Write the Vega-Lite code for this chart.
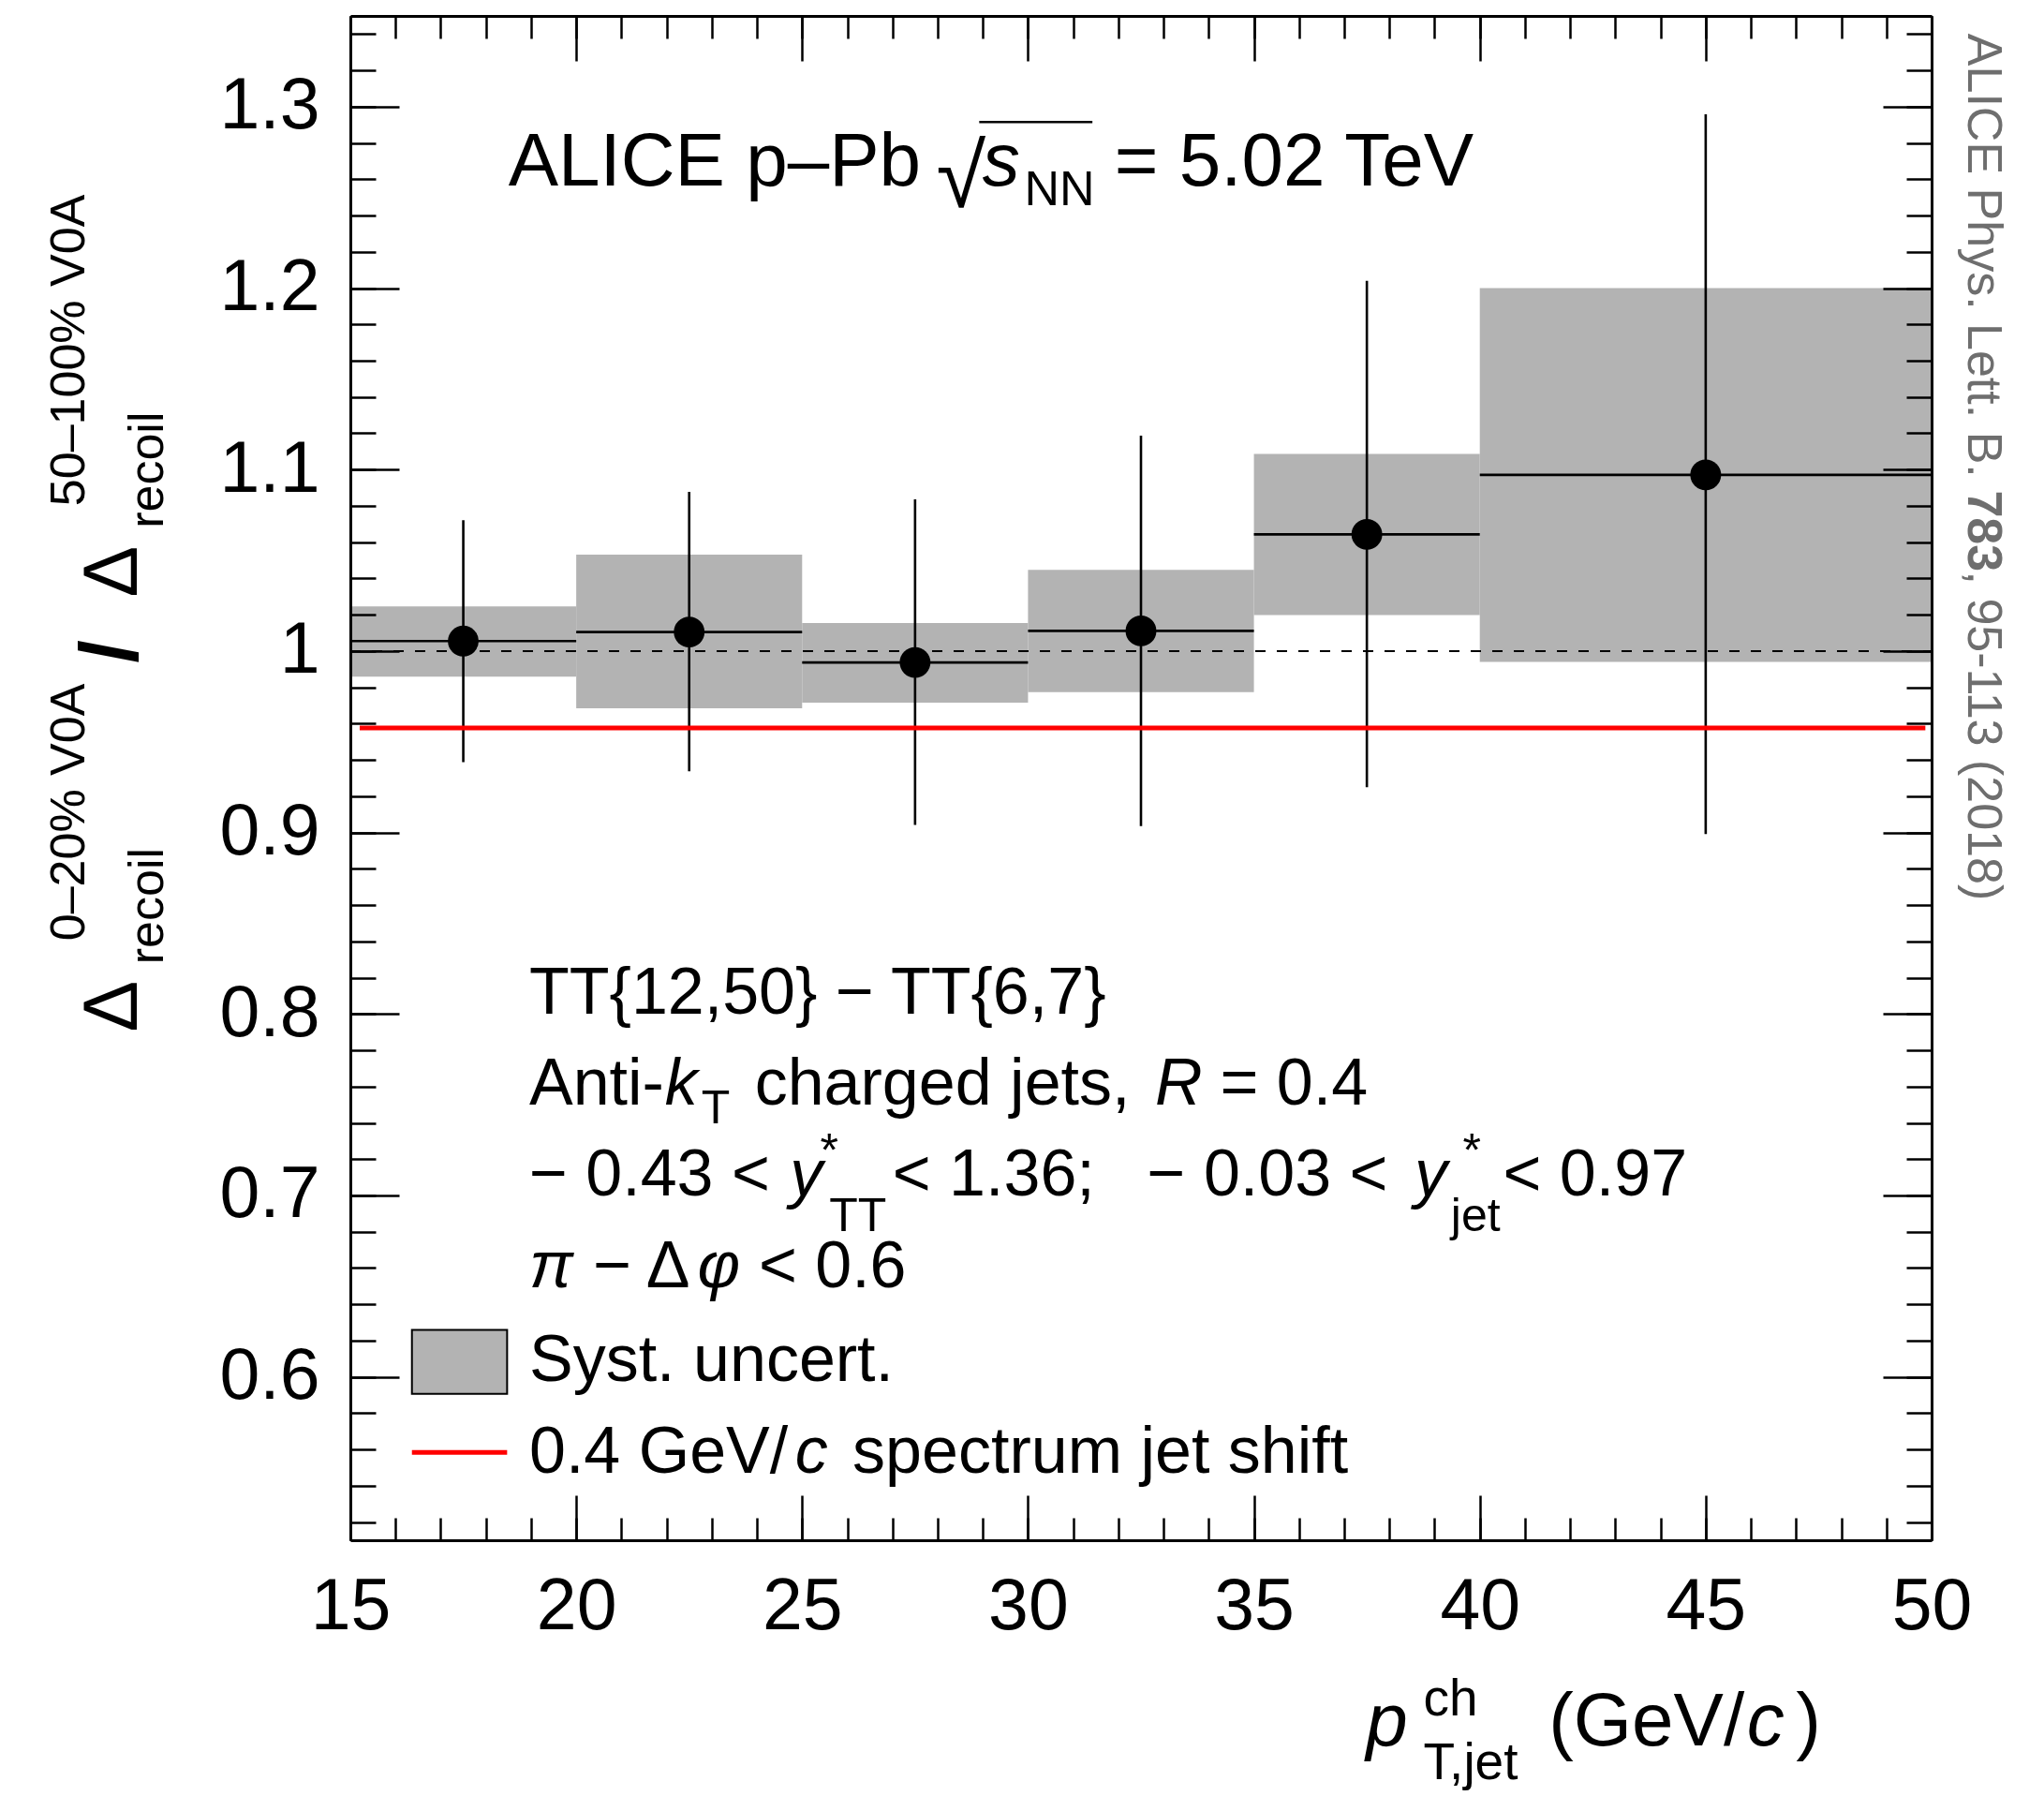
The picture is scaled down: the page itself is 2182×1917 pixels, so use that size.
{
  "$schema": "https://vega.github.io/schema/vega-lite/v6.json",
  "width": 1688,
  "height": 1627,
  "autosize": {"type": "none"},
  "padding": {"left": 374, "top": 17, "right": 120, "bottom": 273},
  "background": "white",
  "config": {"view": {"stroke": null}, "font": "Liberation Sans"},
  "datasets": {
    "bins": [
      {"lo": 15, "hi": 20, "x": 17.5, "v": 1.0055, "elo": 0.9388, "ehi": 1.0721, "slo": 0.9859, "shi": 1.0246},
      {"lo": 20, "hi": 25, "x": 22.5, "v": 1.0105, "elo": 0.9337, "ehi": 1.0877, "slo": 0.9684, "shi": 1.0531},
      {"lo": 25, "hi": 30, "x": 27.5, "v": 0.9937, "elo": 0.9042, "ehi": 1.0836, "slo": 0.9716, "shi": 1.0155},
      {"lo": 30, "hi": 35, "x": 32.5, "v": 1.0111, "elo": 0.9035, "ehi": 1.1187, "slo": 0.9774, "shi": 1.0448},
      {"lo": 35, "hi": 40, "x": 37.5, "v": 1.0643, "elo": 0.925, "ehi": 1.204, "slo": 1.0198, "shi": 1.1087},
      {"lo": 40, "hi": 50, "x": 45, "v": 1.0971, "elo": 0.8992, "ehi": 1.2958, "slo": 0.994, "shi": 1.2}
    ],
    "labels": [
      {"role": "title", "x": 18.498, "y": 1.2564, "t": "ALICE p–Pb"},
      {"role": "radical", "x": 27.97, "y": 1.2449, "t": "√"},
      {"role": "titleit", "x": 28.99, "y": 1.2564, "t": "s"},
      {"role": "titlesub", "x": 29.92, "y": 1.2456, "t": "NN"},
      {"role": "title", "x": 31.916, "y": 1.2564, "t": "= 5.02 TeV"},
      {"role": "body", "x": 18.96, "y": 0.8002, "t": "TT{12,50} − TT{6,7}"},
      {"role": "body", "x": 18.96, "y": 0.75, "t": "Anti-"},
      {"role": "bodyit", "x": 21.961, "y": 0.75, "t": "k"},
      {"role": "small", "x": 22.769, "y": 0.7399, "t": "T"},
      {"role": "body", "x": 23.951, "y": 0.75, "t": "charged jets,"},
      {"role": "bodyit", "x": 32.81, "y": 0.75, "t": "R"},
      {"role": "body", "x": 34.252, "y": 0.75, "t": "= 0.4"},
      {"role": "body", "x": 18.96, "y": 0.6998, "t": "− 0.43 <"},
      {"role": "bodyit", "x": 24.731, "y": 0.6998, "t": "y"},
      {"role": "small", "x": 25.4, "y": 0.716, "t": "*"},
      {"role": "small", "x": 25.6, "y": 0.6804, "t": "TT"},
      {"role": "body", "x": 27.0, "y": 0.6998, "t": "< 1.36;"},
      {"role": "body", "x": 32.637, "y": 0.6998, "t": "− 0.03 <"},
      {"role": "bodyit", "x": 38.552, "y": 0.6998, "t": "y"},
      {"role": "small", "x": 39.62, "y": 0.716, "t": "*"},
      {"role": "small", "x": 39.36, "y": 0.6804, "t": "jet"},
      {"role": "body", "x": 40.514, "y": 0.6998, "t": "< 0.97"},
      {"role": "bodyit", "x": 18.96, "y": 0.6495, "t": "π"},
      {"role": "body", "x": 20.374, "y": 0.6495, "t": "− Δ"},
      {"role": "bodyit", "x": 22.682, "y": 0.6495, "t": "φ"},
      {"role": "body", "x": 24.038, "y": 0.6495, "t": "< 0.6"},
      {"role": "body", "x": 18.96, "y": 0.5979, "t": "Syst. uncert."},
      {"role": "body", "x": 18.96, "y": 0.547, "t": "0.4 GeV/"},
      {"role": "bodyit", "x": 24.846, "y": 0.547, "t": "c"},
      {"role": "body", "x": 26.116, "y": 0.547, "t": "spectrum jet shift"},
      {"role": "xtit", "x": 37.484, "y": 0.397, "t": "p"},
      {"role": "xtsub", "x": 38.754, "y": 0.4135, "t": "ch"},
      {"role": "xtsub", "x": 38.754, "y": 0.3784, "t": "T,jet"},
      {"role": "xt", "x": 41.524, "y": 0.397, "t": "(GeV/"},
      {"role": "xtit", "x": 45.91, "y": 0.397, "t": "c"},
      {"role": "xt", "x": 47.0, "y": 0.397, "t": ")"},
      {"role": "yt", "x": 10.275, "y": 0.7901, "t": "Δ"},
      {"role": "ysmall", "x": 10.852, "y": 0.8274, "t": "recoil"},
      {"role": "ysmall", "x": 9.121, "y": 0.8403, "t": "0–20% V0A"},
      {"role": "yslash", "x": 10.275, "y": 0.9935, "t": "/"},
      {"role": "yt", "x": 10.275, "y": 1.0297, "t": "Δ"},
      {"role": "ysmall", "x": 10.852, "y": 1.0677, "t": "recoil"},
      {"role": "ysmall", "x": 9.121, "y": 1.0799, "t": "50–100% V0A"},
      {"role": "ref", "x": 50.815, "y": 1.3403, "t": "ALICE Phys. Lett. B."},
      {"role": "refbold", "x": 50.815, "y": 1.08854, "t": "783"},
      {"role": "ref", "x": 50.815, "y": 1.04407, "t": ", 95-113 (2018)"}
    ]
  },
  "resolve": {"axis": {"x": "independent", "y": "independent"}},
  "layer": [
    {
      "data": {"name": "bins"},
      "mark": {"type": "rect", "color": "#b3b3b3"},
      "encoding": {
        "x": {"field": "lo", "type": "quantitative", "scale": {"domain": [15, 50], "nice": false, "zero": false},
          "axis": {"orient": "bottom", "values": [15, 20, 25, 30, 35, 40, 45, 50], "tickSize": -48, "tickWidth": 2.5, "tickColor": "black", "domain": true, "domainWidth": 3, "domainColor": "black", "labels": true, "labelFont": "Liberation Sans", "labelFontSize": 77, "labelColor": "black", "labelPadding": 81, "labelFlush": false, "labelOverlap": false, "grid": false, "title": null, "zindex": 1}},
        "x2": {"field": "hi"},
        "y": {"field": "slo", "type": "quantitative", "scale": {"domain": [0.51, 1.35], "nice": false, "zero": false},
          "axis": {"orient": "left", "values": [0.6, 0.7, 0.8, 0.9, 1, 1.1, 1.2, 1.3], "format": ".1~f", "tickSize": -52, "tickWidth": 2.5, "tickColor": "black", "domain": true, "domainWidth": 3, "domainColor": "black", "labels": true, "labelFont": "Liberation Sans", "labelFontSize": 77, "labelColor": "black", "labelPadding": 85, "labelFlush": false, "labelOverlap": false, "grid": false, "title": null, "zindex": 1}},
        "y2": {"field": "shi"}
      }
    },
    {
      "data": {"values": [{"x1": 15, "x2": 50, "y": 1}]},
      "mark": {"type": "rule", "color": "black", "strokeWidth": 2, "strokeDash": [11, 12]},
      "encoding": {
        "x": {"field": "x1", "type": "quantitative", "scale": {"domain": [15, 50], "nice": false, "zero": false}, "axis": null},
        "x2": {"field": "x2"},
        "y": {"field": "y", "type": "quantitative", "scale": {"domain": [0.51, 1.35], "nice": false, "zero": false}, "axis": null}
      }
    },
    {
      "data": {"name": "bins"},
      "mark": {"type": "rule", "color": "black", "strokeWidth": 2.6},
      "encoding": {
        "x": {"field": "x", "type": "quantitative", "scale": {"domain": [15, 50], "nice": false, "zero": false},
          "axis": {"orient": "bottom", "values": [15, 16, 17, 18, 19, 20, 21, 22, 23, 24, 25, 26, 27, 28, 29, 30, 31, 32, 33, 34, 35, 36, 37, 38, 39, 40, 41, 42, 43, 44, 45, 46, 47, 48, 49, 50], "tickSize": -24, "tickWidth": 2.5, "tickColor": "black", "domain": false, "labels": false, "grid": false, "title": null, "zindex": 1}},
        "y": {"field": "elo", "type": "quantitative", "scale": {"domain": [0.51, 1.35], "nice": false, "zero": false},
          "axis": {"orient": "left", "values": [0.52, 0.54, 0.56, 0.58, 0.6, 0.62, 0.64, 0.66, 0.68, 0.7, 0.72, 0.74, 0.76, 0.78, 0.8, 0.82, 0.84, 0.86, 0.88, 0.9, 0.92, 0.94, 0.96, 0.98, 1, 1.02, 1.04, 1.06, 1.08, 1.1, 1.12, 1.14, 1.16, 1.18, 1.2, 1.22, 1.24, 1.26, 1.28, 1.3, 1.32, 1.34], "tickSize": -27, "tickWidth": 2.5, "tickColor": "black", "domain": false, "labels": false, "grid": false, "title": null, "zindex": 1}},
        "y2": {"field": "ehi"}
      }
    },
    {
      "data": {"name": "bins"},
      "mark": {"type": "rule", "color": "black", "strokeWidth": 2.6},
      "encoding": {
        "x": {"field": "lo", "type": "quantitative", "scale": {"domain": [15, 50], "nice": false, "zero": false},
          "axis": {"orient": "top", "values": [15, 20, 25, 30, 35, 40, 45, 50], "tickSize": -48, "tickWidth": 2.5, "tickColor": "black", "domain": true, "domainWidth": 3, "domainColor": "black", "labels": false, "grid": false, "title": null, "zindex": 1}},
        "x2": {"field": "hi"},
        "y": {"field": "v", "type": "quantitative", "scale": {"domain": [0.51, 1.35], "nice": false, "zero": false},
          "axis": {"orient": "right", "values": [0.6, 0.7, 0.8, 0.9, 1, 1.1, 1.2, 1.3], "tickSize": -52, "tickWidth": 2.5, "tickColor": "black", "domain": true, "domainWidth": 3, "domainColor": "black", "labels": false, "grid": false, "title": null, "zindex": 1}}
      }
    },
    {
      "data": {"values": [{"x1": 15.207, "x2": 49.862, "y": 0.9576}]},
      "mark": {"type": "rule", "color": "#ff0000", "strokeWidth": 5},
      "encoding": {
        "x": {"field": "x1", "type": "quantitative", "scale": {"domain": [15, 50], "nice": false, "zero": false}, "axis": null},
        "x2": {"field": "x2"},
        "y": {"field": "y", "type": "quantitative", "scale": {"domain": [0.51, 1.35], "nice": false, "zero": false}, "axis": null}
      }
    },
    {
      "data": {"name": "bins"},
      "mark": {"type": "point", "filled": true, "color": "black", "opacity": 1, "size": 1080, "shape": "circle"},
      "encoding": {
        "x": {"field": "x", "type": "quantitative", "scale": {"domain": [15, 50], "nice": false, "zero": false},
          "axis": {"orient": "top", "values": [15, 16, 17, 18, 19, 20, 21, 22, 23, 24, 25, 26, 27, 28, 29, 30, 31, 32, 33, 34, 35, 36, 37, 38, 39, 40, 41, 42, 43, 44, 45, 46, 47, 48, 49, 50], "tickSize": -24, "tickWidth": 2.5, "tickColor": "black", "domain": false, "labels": false, "grid": false, "title": null, "zindex": 1}},
        "y": {"field": "v", "type": "quantitative", "scale": {"domain": [0.51, 1.35], "nice": false, "zero": false},
          "axis": {"orient": "right", "values": [0.52, 0.54, 0.56, 0.58, 0.6, 0.62, 0.64, 0.66, 0.68, 0.7, 0.72, 0.74, 0.76, 0.78, 0.8, 0.82, 0.84, 0.86, 0.88, 0.9, 0.92, 0.94, 0.96, 0.98, 1, 1.02, 1.04, 1.06, 1.08, 1.1, 1.12, 1.14, 1.16, 1.18, 1.2, 1.22, 1.24, 1.26, 1.28, 1.3, 1.32, 1.34], "tickSize": -27, "tickWidth": 2.5, "tickColor": "black", "domain": false, "labels": false, "grid": false, "title": null, "zindex": 1}}
      }
    },
    {
      "data": {"values": [{"x1": 16.363, "x2": 18.47, "y1": 0.5907, "y2": 0.6259}]},
      "mark": {"type": "rect", "fill": "#b3b3b3", "stroke": "black", "strokeWidth": 2},
      "encoding": {
        "x": {"field": "x1", "type": "quantitative", "scale": {"domain": [15, 50], "nice": false, "zero": false}, "axis": null},
        "x2": {"field": "x2"},
        "y": {"field": "y1", "type": "quantitative", "scale": {"domain": [0.51, 1.35], "nice": false, "zero": false}, "axis": null},
        "y2": {"field": "y2"}
      }
    },
    {
      "data": {"values": [{"x1": 16.363, "x2": 18.47, "y": 0.5584}]},
      "mark": {"type": "rule", "color": "#ff0000", "strokeWidth": 5},
      "encoding": {
        "x": {"field": "x1", "type": "quantitative", "scale": {"domain": [15, 50], "nice": false, "zero": false}, "axis": null},
        "x2": {"field": "x2"},
        "y": {"field": "y", "type": "quantitative", "scale": {"domain": [0.51, 1.35], "nice": false, "zero": false}, "axis": null}
      }
    },
    {
      "data": {"values": [{"x1": 28.92, "x2": 31.425, "y": 1.2915}]},
      "mark": {"type": "rule", "color": "black", "strokeWidth": 2.5},
      "encoding": {
        "x": {"field": "x1", "type": "quantitative", "scale": {"domain": [15, 50], "nice": false, "zero": false}, "axis": null},
        "x2": {"field": "x2"},
        "y": {"field": "y", "type": "quantitative", "scale": {"domain": [0.51, 1.35], "nice": false, "zero": false}, "axis": null}
      }
    },
    {
      "data": {"name": "labels"},
      "transform": [{"filter": "datum.role == 'title'"}],
      "mark": {"type": "text", "font": "Liberation Sans", "fontSize": 80, "align": "left", "baseline": "alphabetic", "color": "black"},
      "encoding": {
        "x": {"field": "x", "type": "quantitative", "scale": {"domain": [15, 50], "nice": false, "zero": false}, "axis": null},
        "y": {"field": "y", "type": "quantitative", "scale": {"domain": [0.51, 1.35], "nice": false, "zero": false}, "axis": null},
        "text": {"field": "t"}
      }
    },
    {
      "data": {"name": "labels"},
      "transform": [{"filter": "datum.role == 'titleit'"}],
      "mark": {"type": "text", "font": "Liberation Sans", "fontStyle": "italic", "fontSize": 80, "align": "left", "baseline": "alphabetic", "color": "black"},
      "encoding": {
        "x": {"field": "x", "type": "quantitative", "scale": {"domain": [15, 50], "nice": false, "zero": false}, "axis": null},
        "y": {"field": "y", "type": "quantitative", "scale": {"domain": [0.51, 1.35], "nice": false, "zero": false}, "axis": null},
        "text": {"field": "t"}
      }
    },
    {
      "data": {"name": "labels"},
      "transform": [{"filter": "datum.role == 'titlesub'"}],
      "mark": {"type": "text", "font": "Liberation Sans", "fontSize": 52, "align": "left", "baseline": "alphabetic", "color": "black"},
      "encoding": {
        "x": {"field": "x", "type": "quantitative", "scale": {"domain": [15, 50], "nice": false, "zero": false}, "axis": null},
        "y": {"field": "y", "type": "quantitative", "scale": {"domain": [0.51, 1.35], "nice": false, "zero": false}, "axis": null},
        "text": {"field": "t"}
      }
    },
    {
      "data": {"name": "labels"},
      "transform": [{"filter": "datum.role == 'radical'"}],
      "mark": {"type": "text", "font": "Liberation Sans", "fontSize": 96, "align": "left", "baseline": "alphabetic", "color": "black"},
      "encoding": {
        "x": {"field": "x", "type": "quantitative", "scale": {"domain": [15, 50], "nice": false, "zero": false}, "axis": null},
        "y": {"field": "y", "type": "quantitative", "scale": {"domain": [0.51, 1.35], "nice": false, "zero": false}, "axis": null},
        "text": {"field": "t"}
      }
    },
    {
      "data": {"name": "labels"},
      "transform": [{"filter": "datum.role == 'body'"}],
      "mark": {"type": "text", "font": "Liberation Sans", "fontSize": 70, "align": "left", "baseline": "alphabetic", "color": "black"},
      "encoding": {
        "x": {"field": "x", "type": "quantitative", "scale": {"domain": [15, 50], "nice": false, "zero": false}, "axis": null},
        "y": {"field": "y", "type": "quantitative", "scale": {"domain": [0.51, 1.35], "nice": false, "zero": false}, "axis": null},
        "text": {"field": "t"}
      }
    },
    {
      "data": {"name": "labels"},
      "transform": [{"filter": "datum.role == 'bodyit'"}],
      "mark": {"type": "text", "font": "Liberation Sans", "fontStyle": "italic", "fontSize": 70, "align": "left", "baseline": "alphabetic", "color": "black"},
      "encoding": {
        "x": {"field": "x", "type": "quantitative", "scale": {"domain": [15, 50], "nice": false, "zero": false}, "axis": null},
        "y": {"field": "y", "type": "quantitative", "scale": {"domain": [0.51, 1.35], "nice": false, "zero": false}, "axis": null},
        "text": {"field": "t"}
      }
    },
    {
      "data": {"name": "labels"},
      "transform": [{"filter": "datum.role == 'small'"}],
      "mark": {"type": "text", "font": "Liberation Sans", "fontSize": 50, "align": "left", "baseline": "alphabetic", "color": "black"},
      "encoding": {
        "x": {"field": "x", "type": "quantitative", "scale": {"domain": [15, 50], "nice": false, "zero": false}, "axis": null},
        "y": {"field": "y", "type": "quantitative", "scale": {"domain": [0.51, 1.35], "nice": false, "zero": false}, "axis": null},
        "text": {"field": "t"}
      }
    },
    {
      "data": {"name": "labels"},
      "transform": [{"filter": "datum.role == 'xt'"}],
      "mark": {"type": "text", "font": "Liberation Sans", "fontSize": 80, "align": "left", "baseline": "alphabetic", "color": "black"},
      "encoding": {
        "x": {"field": "x", "type": "quantitative", "scale": {"domain": [15, 50], "nice": false, "zero": false}, "axis": null},
        "y": {"field": "y", "type": "quantitative", "scale": {"domain": [0.51, 1.35], "nice": false, "zero": false}, "axis": null},
        "text": {"field": "t"}
      }
    },
    {
      "data": {"name": "labels"},
      "transform": [{"filter": "datum.role == 'xtit'"}],
      "mark": {"type": "text", "font": "Liberation Sans", "fontStyle": "italic", "fontSize": 80, "align": "left", "baseline": "alphabetic", "color": "black"},
      "encoding": {
        "x": {"field": "x", "type": "quantitative", "scale": {"domain": [15, 50], "nice": false, "zero": false}, "axis": null},
        "y": {"field": "y", "type": "quantitative", "scale": {"domain": [0.51, 1.35], "nice": false, "zero": false}, "axis": null},
        "text": {"field": "t"}
      }
    },
    {
      "data": {"name": "labels"},
      "transform": [{"filter": "datum.role == 'xtsub'"}],
      "mark": {"type": "text", "font": "Liberation Sans", "fontSize": 55, "align": "left", "baseline": "alphabetic", "color": "black"},
      "encoding": {
        "x": {"field": "x", "type": "quantitative", "scale": {"domain": [15, 50], "nice": false, "zero": false}, "axis": null},
        "y": {"field": "y", "type": "quantitative", "scale": {"domain": [0.51, 1.35], "nice": false, "zero": false}, "axis": null},
        "text": {"field": "t"}
      }
    },
    {
      "data": {"name": "labels"},
      "transform": [{"filter": "datum.role == 'yt'"}],
      "mark": {"type": "text", "font": "Liberation Sans", "fontSize": 82, "angle": 270, "align": "left", "baseline": "alphabetic", "color": "black"},
      "encoding": {
        "x": {"field": "x", "type": "quantitative", "scale": {"domain": [15, 50], "nice": false, "zero": false}, "axis": null},
        "y": {"field": "y", "type": "quantitative", "scale": {"domain": [0.51, 1.35], "nice": false, "zero": false}, "axis": null},
        "text": {"field": "t"}
      }
    },
    {
      "data": {"name": "labels"},
      "transform": [{"filter": "datum.role == 'ysmall'"}],
      "mark": {"type": "text", "font": "Liberation Sans", "fontSize": 52, "angle": 270, "align": "left", "baseline": "alphabetic", "color": "black"},
      "encoding": {
        "x": {"field": "x", "type": "quantitative", "scale": {"domain": [15, 50], "nice": false, "zero": false}, "axis": null},
        "y": {"field": "y", "type": "quantitative", "scale": {"domain": [0.51, 1.35], "nice": false, "zero": false}, "axis": null},
        "text": {"field": "t"}
      }
    },
    {
      "data": {"name": "labels"},
      "transform": [{"filter": "datum.role == 'yslash'"}],
      "mark": {"type": "text", "font": "Liberation Sans", "fontWeight": "bold", "fontSize": 88, "angle": 270, "align": "left", "baseline": "alphabetic", "color": "black"},
      "encoding": {
        "x": {"field": "x", "type": "quantitative", "scale": {"domain": [15, 50], "nice": false, "zero": false}, "axis": null},
        "y": {"field": "y", "type": "quantitative", "scale": {"domain": [0.51, 1.35], "nice": false, "zero": false}, "axis": null},
        "text": {"field": "t"}
      }
    },
    {
      "data": {"name": "labels"},
      "transform": [{"filter": "datum.role == 'ref'"}],
      "mark": {"type": "text", "font": "Liberation Sans", "fontSize": 52, "angle": 90, "align": "left", "baseline": "alphabetic", "color": "#6e6e6e"},
      "encoding": {
        "x": {"field": "x", "type": "quantitative", "scale": {"domain": [15, 50], "nice": false, "zero": false}, "axis": null},
        "y": {"field": "y", "type": "quantitative", "scale": {"domain": [0.51, 1.35], "nice": false, "zero": false}, "axis": null},
        "text": {"field": "t"}
      }
    },
    {
      "data": {"name": "labels"},
      "transform": [{"filter": "datum.role == 'refbold'"}],
      "mark": {"type": "text", "font": "Liberation Sans", "fontWeight": "bold", "fontSize": 52, "angle": 90, "align": "left", "baseline": "alphabetic", "color": "#6e6e6e"},
      "encoding": {
        "x": {"field": "x", "type": "quantitative", "scale": {"domain": [15, 50], "nice": false, "zero": false}, "axis": null},
        "y": {"field": "y", "type": "quantitative", "scale": {"domain": [0.51, 1.35], "nice": false, "zero": false}, "axis": null},
        "text": {"field": "t"}
      }
    }
  ]
}
